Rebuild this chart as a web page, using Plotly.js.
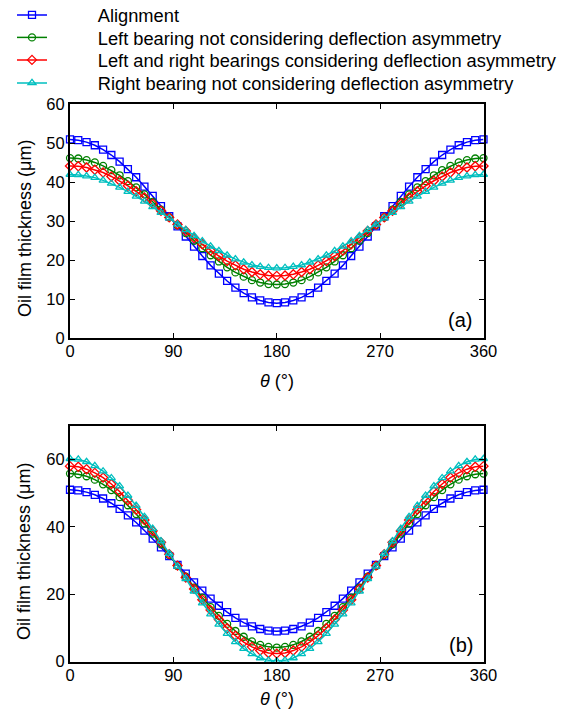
<!DOCTYPE html>
<html>
<head>
<meta charset="utf-8">
<script src="https://cdn.plot.ly/plotly-3.0.1.min.js"></script>
<style>html,body{margin:0;padding:0;background:#fff;}#chart{width:568px;height:715px;}</style>
</head>
<body>
<div id="chart"></div>
<script>
// ---- data ----
var theta = [0,7.2,14.4,21.6,28.8,36,43.2,50.4,57.6,64.8,72,79.2,86.4,93.6,100.8,108,115.2,122.4,129.6,136.8,144,151.2,158.4,165.6,172.8,180,187.2,194.4,201.6,208.8,216,223.2,230.4,237.6,244.8,252,259.2,266.4,273.6,280.8,288,295.2,302.4,309.6,316.8,324,331.2,338.4,345.6,352.8,360];

var seriesNames = [
  "Alignment",
  "Left bearing not considering deflection asymmetry",
  "Left and right bearings considering deflection asymmetry",
  "Right bearing not considering deflection asymmetry"
];

// panel (a)
var alignA = [51.0,50.8,50.3,49.5,48.4,47.0,45.3,43.4,41.3,38.9,36.5,33.9,31.3,28.7,26.1,23.5,21.1,18.7,16.6,14.7,13.0,11.6,10.5,9.7,9.2,9.0,9.2,9.7,10.5,11.6,13.0,14.7,16.6,18.7,21.1,23.5,26.1,28.7,31.3,33.9,36.5,38.9,41.3,43.4,45.3,47.0,48.4,49.5,50.3,50.8,51.0];
var leftA = [46.2,46.1,45.7,45.1,44.2,43.1,41.8,40.3,38.7,36.9,35.0,33.0,31.0,29.0,27.0,25.0,23.1,21.3,19.7,18.2,16.9,15.8,14.9,14.3,13.9,13.8,13.9,14.3,14.9,15.8,16.9,18.2,19.7,21.3,23.1,25.0,27.0,29.0,31.0,33.0,35.0,36.9,38.7,40.3,41.8,43.1,44.2,45.1,45.7,46.1,46.2];
var bothA = [44.2,44.1,43.8,43.2,42.5,41.5,40.4,39.1,37.7,36.1,34.5,32.7,31.0,29.2,27.5,25.7,24.1,22.5,21.1,19.8,18.7,17.7,17.0,16.4,16.1,16.0,16.1,16.4,17.0,17.7,18.7,19.8,21.1,22.5,24.1,25.7,27.5,29.2,31.0,32.7,34.5,36.1,37.7,39.1,40.4,41.5,42.5,43.2,43.8,44.1,44.2];
var rightA = [42.0,41.9,41.6,41.2,40.5,39.7,38.7,37.6,36.4,35.1,33.7,32.2,30.8,29.2,27.8,26.3,24.9,23.6,22.4,21.3,20.3,19.5,18.8,18.4,18.1,18.0,18.1,18.4,18.8,19.5,20.3,21.3,22.4,23.6,24.9,26.3,27.8,29.2,30.8,32.2,33.7,35.1,36.4,37.6,38.7,39.7,40.5,41.2,41.6,41.9,42.0];

// panel (b)
var alignB = [51.0,50.8,50.3,49.5,48.4,47.0,45.3,43.4,41.3,38.9,36.5,33.9,31.3,28.7,26.1,23.5,21.1,18.7,16.6,14.7,13.0,11.6,10.5,9.7,9.2,9.0,9.2,9.7,10.5,11.6,13.0,14.7,16.6,18.7,21.1,23.5,26.1,28.7,31.3,33.9,36.5,38.9,41.3,43.4,45.3,47.0,48.4,49.5,50.3,50.8,51.0];
var leftB = [55.8,55.6,55.0,54.0,52.6,50.9,48.8,46.4,43.8,41.0,38.0,34.8,31.6,28.4,25.2,22.0,19.0,16.2,13.6,11.2,9.1,7.4,6.0,5.0,4.4,4.2,4.4,5.0,6.0,7.4,9.1,11.2,13.6,16.2,19.0,22.0,25.2,28.4,31.6,34.8,38.0,41.0,43.8,46.4,48.8,50.9,52.6,54.0,55.0,55.6,55.8];
var bothB = [58.0,57.8,57.1,56.0,54.6,52.7,50.5,47.9,45.1,42.0,38.8,35.4,31.9,28.5,25.0,21.6,18.4,15.3,12.5,9.9,7.7,5.8,4.4,3.3,2.6,2.4,2.6,3.3,4.4,5.8,7.7,9.9,12.5,15.3,18.4,21.6,25.0,28.5,31.9,35.4,38.8,42.0,45.1,47.9,50.5,52.7,54.6,56.0,57.1,57.8,58.0];
var rightB = [60.2,60.0,59.3,58.1,56.5,54.5,52.1,49.3,46.3,43.0,39.5,35.8,32.1,28.3,24.6,20.9,17.4,14.1,11.1,8.3,5.9,3.9,2.3,1.1,0.4,0.2,0.4,1.1,2.3,3.9,5.9,8.3,11.1,14.1,17.4,20.9,24.6,28.3,32.1,35.8,39.5,43.0,46.3,49.3,52.1,54.5,56.5,58.1,59.3,60.0,60.2];

var xTicks = [0,90,180,270,360];
var yTicksA = [0,10,20,30,40,50,60];
var yTicksB = [0,20,40,60];

// ---- styles ----
var colors = ["#0000ff", "#008000", "#ff0000", "#00bfbf"];
var symbols = ["square-open", "circle-open", "diamond-open", "triangle-up-open"];
var legendIds = ["legend", "legend2", "legend3", "legend4"];
var FONT = "Liberation Sans, Arial, Helvetica, sans-serif";
var PAD = "\u00a0\u00a0\u00a0\u00a0\u00a0\u00a0\u00a0\u00a0\u00a0";

var dataA = [alignA, leftA, bothA, rightA];
var dataB = [alignB, leftB, bothB, rightB];
var traces = [];
for (var i = 0; i < 4; i++) {
  traces.push({
    x: theta, y: dataA[i], xaxis: "x", yaxis: "y",
    type: "scatter", mode: "lines+markers", cliponaxis: false,
    name: PAD + seriesNames[i], legend: legendIds[i], showlegend: true,
    line: {color: colors[i], width: 1.5},
    marker: {symbol: symbols[i], size: 7, color: colors[i], line: {width: 1.3, color: colors[i]}}
  });
}
for (var j = 0; j < 4; j++) {
  traces.push({
    x: theta, y: dataB[j], xaxis: "x2", yaxis: "y2",
    type: "scatter", mode: "lines+markers", cliponaxis: false,
    name: seriesNames[j], showlegend: false,
    line: {color: colors[j], width: 1.5},
    marker: {symbol: symbols[j], size: 7, color: colors[j], line: {width: 1.3, color: colors[j]}}
  });
}

var W = 568, H = 715;
function px(v) { return v / W; }
function py(v) { return 1 - v / H; }

var axisCommon = {
  showgrid: false, zeroline: false, showline: true, linecolor: "#000", linewidth: 2,
  mirror: "ticks", ticks: "inside", ticklen: 5, tickwidth: 1.2, tickcolor: "#000",
  tickfont: {family: FONT, size: 16.5, color: "#000"}, automargin: false, fixedrange: true
};
function ax(extra) { var o = {}; for (var k in axisCommon) o[k] = axisCommon[k]; for (var k2 in extra) o[k2] = extra[k2]; return o; }

var legendBase = function (yc) {
  return {x: px(12), xanchor: "left", y: py(yc), yanchor: "middle", bgcolor: "rgba(0,0,0,0)",
          borderwidth: 0, font: {family: FONT, size: 18.3, color: "#000"}, itemwidth: 30};
};

var layout = {
  width: W, height: H,
  margin: {l: 0, r: 0, t: 0, b: 0, autoexpand: false},
  paper_bgcolor: "#fff", plot_bgcolor: "#fff",
  font: {family: FONT, color: "#000"},
  xaxis: ax({domain: [px(70), px(483.5)], range: [0, 360], tickvals: xTicks, anchor: "y", ticklabelstandoff: -3}),
  yaxis: ax({domain: [py(338.3), py(104.3)], range: [0, 60], tickvals: yTicksA, anchor: "x"}),
  xaxis2: ax({domain: [px(70), px(483.5)], range: [0, 360], tickvals: xTicks, anchor: "y2", ticklabelstandoff: -3}),
  yaxis2: ax({domain: [py(661.7), py(425.7)], range: [0, 70], tickvals: yTicksB, anchor: "x2"}),
  legend: legendBase(15),
  legend2: legendBase(37.5),
  legend3: legendBase(60),
  legend4: legendBase(83),
  annotations: [
    {text: "Oil film thickness (\u03bcm)", textangle: -90, xref: "paper", yref: "paper", x: px(25), y: py(229), xanchor: "center", yanchor: "middle", showarrow: false, font: {family: FONT, size: 18}},
    {text: "Oil film thickness (\u03bcm)", textangle: -90, xref: "paper", yref: "paper", x: px(24), y: py(552), xanchor: "center", yanchor: "middle", showarrow: false, font: {family: FONT, size: 18}},
    {text: "<i>\u03b8</i> (\u00b0)", xref: "paper", yref: "paper", x: px(277), y: py(381), xanchor: "center", yanchor: "middle", showarrow: false, font: {family: FONT, size: 18}},
    {text: "<i>\u03b8</i> (\u00b0)", xref: "paper", yref: "paper", x: px(277), y: py(699), xanchor: "center", yanchor: "middle", showarrow: false, font: {family: FONT, size: 18}},
    {text: "(a)", xref: "paper", yref: "paper", x: px(460), y: py(320), xanchor: "center", yanchor: "middle", showarrow: false, font: {family: FONT, size: 20}},
    {text: "(b)", xref: "paper", yref: "paper", x: px(461), y: py(645), xanchor: "center", yanchor: "middle", showarrow: false, font: {family: FONT, size: 20}}
  ]
};

Plotly.newPlot("chart", traces, layout, {displayModeBar: false, staticPlot: true});
</script>
</body>
</html>
